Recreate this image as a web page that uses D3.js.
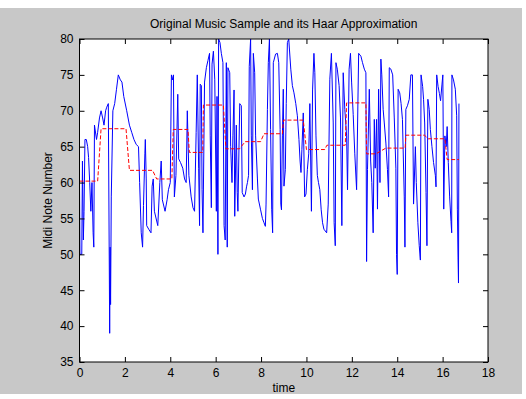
<!DOCTYPE html>
<html>
<head>
<meta charset="utf-8">
<script src="https://cdn.jsdelivr.net/npm/d3@7"></script>
<style>
  body { margin: 0; background: #fff; }
  svg { display: block; font-family: "Liberation Sans", Arial, sans-serif; }
</style>
</head>
<body>
<div id="chart"></div>
<script>
// original sample: time (s) and midi note
const sampleTime = [0, 0.02, 0.1, 0.13, 0.17, 0.2, 0.24, 0.3, 0.36, 0.4, 0.45, 0.5, 0.55, 0.6, 0.63, 0.66, 0.75, 0.8, 0.88, 0.95,
  1.02, 1.08, 1.15, 1.2, 1.27, 1.33, 1.35, 1.37, 1.4, 1.47, 1.55, 1.63, 1.71, 1.8, 1.87, 1.95, 2.08, 2.2, 2.3, 2.4,
  2.5, 2.6, 2.65, 2.72, 2.78, 2.82, 2.88, 2.9, 2.94, 2.96, 3.05, 3.15, 3.2, 3.25, 3.3, 3.45, 3.54, 3.6, 3.65, 3.77,
  3.86, 3.92, 4.0, 4.05, 4.1, 4.14, 4.18, 4.25, 4.33, 4.37, 4.45, 4.55, 4.63, 4.7, 4.75, 4.82, 4.92, 5.0, 5.07, 5.14,
  5.19, 5.25, 5.29, 5.32, 5.37, 5.4, 5.44, 5.51, 5.59, 5.66, 5.73, 5.76, 5.81, 5.84, 5.9, 5.96, 6.03, 6.06, 6.1, 6.13,
  6.19, 6.25, 6.32, 6.37, 6.42, 6.47, 6.51, 6.54, 6.62, 6.66, 6.72, 6.76, 6.81, 6.84, 6.91, 6.95, 6.98, 7.06, 7.13, 7.17,
  7.25, 7.31, 7.36, 7.4, 7.45, 7.48, 7.54, 7.57, 7.62, 7.66, 7.72, 7.76, 7.84, 7.88, 7.98, 8.06, 8.13, 8.19, 8.22, 8.28,
  8.32, 8.37, 8.42, 8.47, 8.51, 8.54, 8.64, 8.72, 8.78, 8.84, 8.87, 8.9, 8.94, 8.98, 9.01, 9.07, 9.11, 9.16, 9.22, 9.31,
  9.38, 9.45, 9.53, 9.6, 9.67, 9.72, 9.76, 9.8, 9.86, 9.92, 9.98, 10.04, 10.1, 10.15, 10.22, 10.27, 10.33, 10.37, 10.42, 10.48,
  10.53, 10.59, 10.65, 10.71, 10.77, 10.89, 10.96, 11.03, 11.1, 11.18, 11.22, 11.27, 11.3, 11.36, 11.44, 11.5, 11.56, 11.62, 11.69, 11.77,
  11.81, 11.88, 11.94, 11.99, 12.06, 12.13, 12.21, 12.3, 12.4, 12.47, 12.55, 12.62, 12.65, 12.69, 12.77, 12.83, 12.88, 12.94, 12.99, 13.03,
  13.09, 13.13, 13.18, 13.24, 13.28, 13.32, 13.38, 13.43, 13.5, 13.57, 13.62, 13.65, 13.72, 13.8, 13.87, 13.94, 13.97, 14.0, 14.04, 14.11,
  14.17, 14.23, 14.31, 14.34, 14.38, 14.45, 14.53, 14.6, 14.67, 14.72, 14.8, 14.84, 14.91, 14.97, 15.02, 15.05, 15.12, 15.16, 15.21, 15.27,
  15.31, 15.35, 15.41, 15.46, 15.53, 15.6, 15.68, 15.71, 15.74, 15.8, 15.86, 15.91, 15.97, 16.01, 16.05, 16.1, 16.16, 16.2, 16.25, 16.31,
  16.37, 16.4, 16.41, 16.48, 16.56, 16.62, 16.65, 16.68, 16.7, 16.72];
const sampleNote = [60, 50, 50, 63, 52, 56, 66, 66, 65, 63.5, 60, 56, 60, 53, 51, 68, 66, 67, 69, 70,
  69, 68, 70, 70.5, 71, 39, 51, 43, 58, 70, 71, 73, 75, 74.3, 74, 72, 70, 68, 67, 66,
  65.3, 65, 60, 53, 51, 56.8, 64, 66, 60.5, 54, 53.5, 53, 59.5, 60.5, 56, 54, 60, 63, 57.6, 56,
  57.6, 59, 60, 75, 74.3, 75, 58, 61, 72.3, 63.3, 62.8, 62, 60.5, 60, 70, 61, 58, 56.5, 56, 67,
  75, 62, 54, 73.7, 73.5, 59, 53, 74, 76, 77, 78, 66.5, 56.5, 76.5, 78.3, 74.4, 56, 72, 50, 80,
  79.5, 78, 76.7, 54, 52, 76.7, 51, 76, 75.3, 65, 60, 66.5, 72.9, 55.3, 68, 58.6, 56, 71, 70.7, 58.6,
  58, 58.4, 59.4, 60, 61, 76.2, 80, 66.5, 59, 78, 75.3, 66.5, 60.5, 57.7, 56.2, 55, 54.4, 53.9, 57, 70.2,
  76.7, 80, 67.4, 56.2, 53, 76.7, 77.9, 78, 76.7, 67.4, 57, 56.2, 66.5, 73, 59.5, 61.8, 71, 79.5, 80, 75.8,
  73.5, 72.5, 71, 69.3, 66, 63, 61.4, 64.6, 69.7, 58, 58.4, 61.8, 64, 71, 56, 72.9, 78, 75.3, 66.5, 61,
  60, 59, 56.2, 54.4, 53.5, 53, 57, 74.4, 78, 68.3, 54.4, 51.2, 76.7, 75.8, 73.5, 69, 54, 75.3, 70.2, 66.5,
  59, 75.8, 78, 74, 69.5, 64, 59, 78, 77.6, 76.7, 75.8, 75.3, 49, 61.8, 73, 63, 60, 53, 68.8, 62,
  68.8, 56.3, 73, 60, 77.2, 75, 70.2, 68.3, 65.5, 61.8, 58, 76, 75.8, 75, 69, 62, 50, 47.2, 73, 72.5,
  71, 68.8, 58, 51, 70.2, 70.7, 71.6, 75, 75, 57, 65, 60, 54.4, 51.2, 49.2, 75, 73.4, 71.6, 68.3, 58.6,
  51.2, 71.6, 70.2, 67.4, 65, 62.8, 61, 59.4, 75, 73.4, 72.4, 71.4, 73.6, 75, 56.3, 66.5, 65, 67.8, 62.8, 58,
  54.6, 53, 75, 74.3, 73, 69.3, 56.3, 49.5, 46, 71];

// haar approximation (block means)
const haarTime = [0, 0.8, 0.95, 2.05, 2.2, 3.22, 3.4, 4.07, 4.13, 4.78, 4.84, 5.43, 5.46, 6.34, 6.45, 7.05, 7.3, 7.98, 8.13,
  8.94, 8.99, 9.86, 10.0, 10.81, 10.9, 11.71, 11.77, 12.62, 12.65, 13.06, 13.5, 14.35, 14.38, 15.2, 15.37, 16.1, 16.2, 16.72];
const haarNote = [60.2, 60.2, 67.5, 67.5, 61.7, 61.7, 60.5, 60.5, 67.4, 67.4, 64.2, 64.2, 70.8, 70.8, 64.7, 64.7, 65.7, 65.7, 66.8,
  66.8, 68.7, 68.7, 64.6, 64.6, 65.2, 65.2, 71.1, 71.1, 64.0, 64.0, 64.8, 64.8, 66.6, 66.6, 66.1, 66.1, 63.2, 63.2];

const xTicks = d3.range(0, 19, 2);
const yTicks = d3.range(35, 81, 5);

const width = 526;
const height = 399;

const svg = d3.select('#chart').append('svg')
  .attr('width', width)
  .attr('height', height);

// figure background
svg.append('rect')
  .attr('x', 0).attr('y', 8)
  .attr('width', 522).attr('height', 386)
  .attr('fill', '#c8c8c8');

const x = d3.scaleLinear().domain([0, 18]).range([79.5, 488]);
const y = d3.scaleLinear().domain([35, 80]).range([362, 39]);

svg.append('rect')
  .attr('x', x(0)).attr('y', y(80))
  .attr('width', x(18) - x(0)).attr('height', y(35) - y(80))
  .attr('fill', '#fff');

svg.append('clipPath').attr('id', 'clip')
  .append('rect')
  .attr('x', x(0)).attr('y', y(80))
  .attr('width', x(18) - x(0)).attr('height', y(35) - y(80));

const sample = sampleTime.map((t, i) => [t, sampleNote[i]]);
const haar = haarTime.map((t, i) => [t, haarNote[i]]);

const line = d3.line().x((d) => x(d[0])).y((d) => y(d[1]));

svg.append('path')
  .datum(sample)
  .attr('clip-path', 'url(#clip)')
  .attr('fill', 'none')
  .attr('stroke', '#0000ff')
  .attr('stroke-width', 1)
  .attr('d', line);

svg.append('path')
  .datum(haar)
  .attr('clip-path', 'url(#clip)')
  .attr('fill', 'none')
  .attr('stroke', '#ff0000')
  .attr('stroke-width', 1)
  .attr('stroke-dasharray', '4,2')
  .attr('d', line);

// axes, ticks pointing inward like matlab
const styleAxis = (g) => {
  g.select('.domain').remove();
  g.selectAll('line').attr('stroke', '#000');
  g.selectAll('text').attr('fill', '#000').attr('font-size', 12);
};

svg.append('g')
  .attr('transform', `translate(0,${y(35)})`)
  .call(d3.axisBottom(x).tickValues(xTicks).tickSizeInner(-5).tickSizeOuter(0).tickPadding(6))
  .call(styleAxis);

svg.append('g')
  .attr('transform', `translate(0,${y(80)})`)
  .call(d3.axisTop(x).tickValues(xTicks).tickSizeInner(-5).tickSizeOuter(0).tickFormat(''))
  .call(styleAxis);

svg.append('g')
  .attr('transform', `translate(${x(0)},0)`)
  .call(d3.axisLeft(y).tickValues(yTicks).tickSizeInner(-5).tickSizeOuter(0).tickPadding(6))
  .call(styleAxis);

svg.append('g')
  .attr('transform', `translate(${x(18)},0)`)
  .call(d3.axisRight(y).tickValues(yTicks).tickSizeInner(-5).tickSizeOuter(0).tickFormat(''))
  .call(styleAxis);

svg.append('rect')
  .attr('x', x(0)).attr('y', y(80))
  .attr('width', x(18) - x(0)).attr('height', y(35) - y(80))
  .attr('fill', 'none')
  .attr('stroke', '#000')
  .attr('stroke-width', 1);

svg.append('text')
  .attr('x', (x(0) + x(18)) / 2)
  .attr('y', 28)
  .attr('text-anchor', 'middle')
  .attr('font-size', 12)
  .text('Original Music Sample and its Haar Approximation');

svg.append('text')
  .attr('x', (x(0) + x(18)) / 2)
  .attr('y', 392)
  .attr('text-anchor', 'middle')
  .attr('font-size', 12)
  .text('time');

svg.append('text')
  .attr('transform', `translate(52,${(y(35) + y(80)) / 2}) rotate(-90)`)
  .attr('text-anchor', 'middle')
  .attr('font-size', 12)
  .text('Midi Note Number');
</script>
</body>
</html>
